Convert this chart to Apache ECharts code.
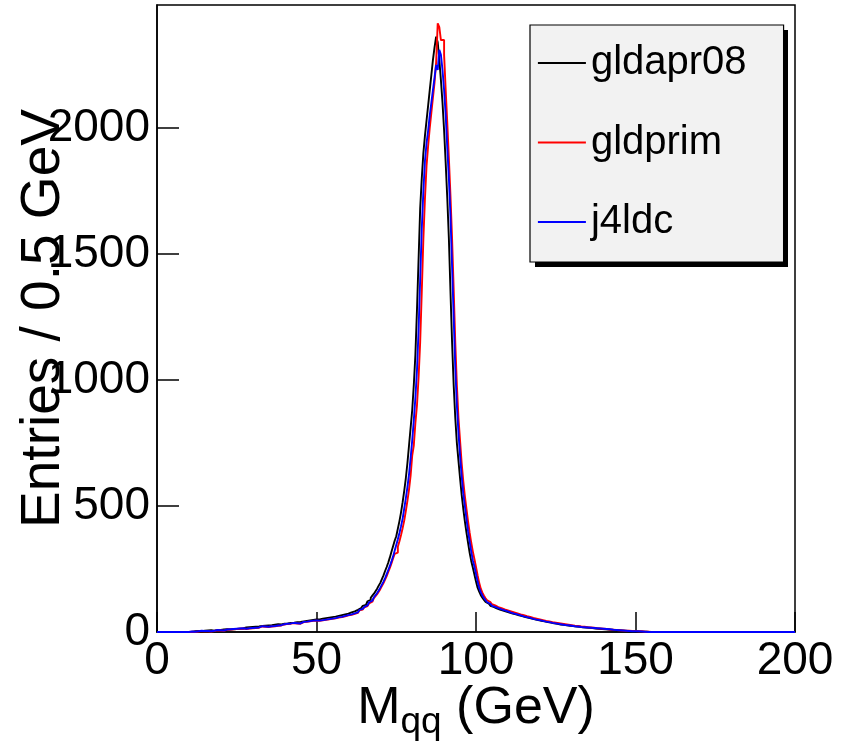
<!DOCTYPE html>
<html>
<head>
<meta charset="utf-8">
<script src="https://cdn.jsdelivr.net/npm/echarts@6/dist/echarts.min.js"></script>
<style>
html, body { margin: 0; padding: 0; background: #fff; }
#main { width: 843px; height: 749px; }
</style>
</head>
<body>
<div id="main"></div>
<script>
// M_qq histograms, 0.5 GeV bins, first stored bin starts at 10 GeV
var binStart = 10;
var binWidth = 0.5;
var xMin = 0, xMax = 200;
var yMax = 2488;
var xTicks = [0, 50, 100, 150, 200];
var yTicks = [0, 500, 1000, 1500, 2000];

var gldapr08 = [
    1,0,2,3,2,4,3,2,4,5,
    4,6,5,7,6,5,8,7,9,8,
    7,10,9,11,12,10,13,11,14,12,
    15,13,16,14,17,18,16,19,17,20,
    18,21,20,22,19,24,22,25,23,26,
    24,27,26,29,28,31,29,30,32,33,
    31,34,33,36,35,37,34,39,37,40,
    38,42,41,44,43,46,44,48,47,50,
    48,50,49,53,51,55,53,57,55,59,
    58,61,60,64,63,67,66,70,69,73,
    74,78,77,82,80,88,90,95,98,104,
    108,114,122,128,136,144,152,162,172,184,
    195,210,225,242,258,276,296,318,340,362,
    380,410,440,475,515,560,610,670,740,810,
    880,980,1100,1280,1480,1680,1800,1900,1970,2030,
    2090,2150,2210,2270,2320,2362,2340,2270,2190,2100,
    1990,1860,1720,1560,1350,1150,980,850,750,680,
    610,545,490,440,395,355,315,282,256,228,
    200,176,160,146,136,127,119,113,108,104,
    100,97,94,91,89,87,85,83,81,79,
    77,75,73,71,70,68,66,64,63,61,
    59,58,56,55,53,51,50,48,47,46,
    44,43,42,40,39,38,37,36,34,33,
    32,31,30,30,29,28,27,26,25,25,
    24,23,22,22,21,20,19,19,18,17,
    17,16,16,15,14,14,13,13,12,12,
    11,11,10,9,9,8,8,7,7,6,
    6,5,5,4,4,4,3,3,3,2,
    2,2,1,1,1,0,1,0,0,0
];

var gldprim = [
    0,1,2,0,3,2,1,4,2,3,
    4,3,5,2,6,4,5,7,4,6,
    7,5,8,9,6,10,8,11,9,12,
    11,13,10,14,15,12,16,14,17,15,
    18,16,20,17,19,22,18,21,23,20,
    24,22,26,23,27,25,29,26,28,30,
    29,32,28,33,31,35,32,34,37,33,
    36,39,35,40,38,42,41,44,40,45,
    46,44,49,46,50,48,53,50,54,52,
    56,54,59,57,61,59,64,62,67,66,
    70,68,73,72,77,76,82,86,89,93,
    98,103,108,114,120,126,134,142,150,160,
    170,182,194,208,222,238,254,272,292,310,
    315,338,360,385,412,442,480,520,565,620,
    700,740,830,900,1010,1150,1350,1560,1720,1850,
    1930,2000,2060,2120,2180,2260,2415,2400,2349,2349,
    2290,2150,2020,1880,1730,1560,1360,1150,980,850,
    760,670,600,540,490,440,395,355,320,290,
    258,225,195,172,156,144,134,126,119,114,
    110,106,103,99,97,95,92,90,88,86,
    84,82,80,78,76,74,72,70,69,67,
    65,63,61,60,58,56,54,53,51,50,
    48,47,46,44,43,42,40,39,38,37,
    36,35,34,33,32,31,30,29,28,27,
    26,25,24,24,23,22,21,21,20,19,
    19,18,17,17,16,15,15,14,14,13,
    12,12,11,10,10,9,9,8,8,7,
    7,6,6,5,5,5,4,4,3,4,
    3,3,2,3,2,1,2,1,0,0
];

var j4ldc = [
    0,2,3,1,4,3,2,5,3,4,
    5,4,6,3,7,5,6,8,5,7,
    8,6,9,10,7,11,9,12,10,13,
    12,14,11,15,16,13,17,15,18,16,
    19,17,21,18,20,23,19,22,24,21,
    25,23,27,24,28,26,30,27,29,31,
    30,33,29,34,32,36,33,35,38,34,
    37,40,36,41,39,43,42,45,41,46,
    48,45,50,47,52,49,54,51,56,53,
    58,55,61,59,63,60,66,64,69,67,
    72,70,76,74,80,78,85,88,92,96,
    100,106,110,118,124,130,138,146,155,165,
    176,188,200,214,230,246,262,280,300,322,
    345,368,393,420,450,490,530,575,625,690,
    760,840,930,1040,1200,1400,1600,1750,1870,1940,
    1990,2050,2100,2150,2200,2250,2230,2310,2290,2230,
    2150,2050,1920,1800,1650,1450,1250,1050,900,790,
    700,620,550,500,450,400,360,320,285,260,
    230,200,175,158,145,135,126,118,112,108,
    104,100,97,95,92,90,88,86,84,82,
    80,77,76,73,72,70,68,66,65,62,
    61,59,57,56,54,52,51,49,48,47,
    45,44,42,41,40,39,38,36,35,34,
    33,32,31,30,29,28,28,27,26,25,
    24,23,23,22,21,20,20,19,18,18,
    18,17,17,16,16,15,15,14,14,13,
    13,12,11,11,10,9,9,8,7,7,
    6,6,5,5,4,4,4,3,3,3,
    2,3,2,2,1,1,1,0,1,0
];

var fontFam = '"Liberation Sans", Arial, Helvetica, sans-serif';

// turn bin contents into [lowEdge, value] points over the whole axis range
function histData(counts) {
    var res = [];
    var nBins = Math.round((xMax - xMin) / binWidth);
    var first = Math.round((binStart - xMin) / binWidth);
    for (var i = 0; i < nBins; i++) {
        var k = i - first;
        var v = (k >= 0 && k < counts.length) ? counts[k] : 0;
        res.push([xMin + i * binWidth, v]);
    }
    res.push([xMax, 0]);
    return res;
}

function histSeries(name, counts, color) {
    return {
        name: name,
        type: 'line',
        step: 'end',
        symbol: 'none',
        data: histData(counts),
        lineStyle: { color: color, width: 1.9 },
        itemStyle: { color: color }
    };
}

function plainNum(v) { return String(v); }

var chart = echarts.init(document.getElementById('main'));
var option = {
    animation: false,
    backgroundColor: '#fff',
    grid: {
        left: 157, top: 5, right: 48, bottom: 117,
        outerBoundsMode: 'none',
        containLabel: false,
        show: true, borderColor: '#000', borderWidth: 1.5,
        backgroundColor: 'transparent'
    },
    // drop shadow of the legend box
    graphic: [{
        type: 'rect', z: 0,
        shape: { x: 535, y: 30, width: 253, height: 237 },
        style: { fill: '#000' }
    }],
    legend: {
        orient: 'vertical',
        left: 530, top: 25, z: 5,
        padding: [18, 37, 20, 7],
        itemWidth: 48, itemHeight: 40, itemGap: 39.5,
        backgroundColor: '#f2f2f2',
        borderColor: '#000', borderWidth: 1.2, borderRadius: 0,
        itemStyle: { opacity: 0 },
        lineStyle: { width: 1.8 },
        textStyle: { fontSize: 40, color: '#000', fontFamily: fontFam },
        data: ['gldapr08', 'gldprim', 'j4ldc']
    },
    xAxis: {
        type: 'value',
        min: xTicks[0], max: xTicks[xTicks.length - 1], interval: xTicks[1] - xTicks[0],
        name: '{m|M}{s|qq}{m| (GeV)}',
        nameLocation: 'middle',
        nameGap: 44,
        nameMoveOverlap: false,
        nameTextStyle: {
            color: '#000', fontFamily: fontFam, fontSize: 52,
            rich: {
                m: { fontSize: 52, color: '#000', fontFamily: fontFam },
                s: { fontSize: 37, color: '#000', fontFamily: fontFam, padding: [28, 0, 0, 0] }
            }
        },
        axisLine: { lineStyle: { color: '#000', width: 1.5 } },
        axisTick: { inside: true, length: 20, lineStyle: { color: '#000', width: 1.5 } },
        axisLabel: { color: '#000', fontSize: 46, fontFamily: fontFam, margin: 6, formatter: plainNum },
        splitLine: { show: false }
    },
    yAxis: {
        type: 'value',
        min: yTicks[0], max: yMax, interval: yTicks[1] - yTicks[0],
        name: 'Entries / 0.5 GeV',
        nameLocation: 'middle',
        nameRotate: 90,
        nameGap: 86,
        nameMoveOverlap: false,
        nameTextStyle: { color: '#000', fontFamily: fontFam, fontSize: 55 },
        axisLine: { show: true, lineStyle: { color: '#000', width: 1.5 } },
        axisTick: { show: true, inside: true, length: 22, lineStyle: { color: '#000', width: 1.5 } },
        axisLabel: { color: '#000', fontSize: 46, fontFamily: fontFam, margin: 7, showMaxLabel: false, formatter: plainNum },
        splitLine: { show: false }
    },
    series: [
        histSeries('gldapr08', gldapr08, '#000000'),
        histSeries('gldprim', gldprim, '#ff0000'),
        histSeries('j4ldc', j4ldc, '#0000ff')
    ]
};
chart.setOption(option);
</script>
</body>
</html>
